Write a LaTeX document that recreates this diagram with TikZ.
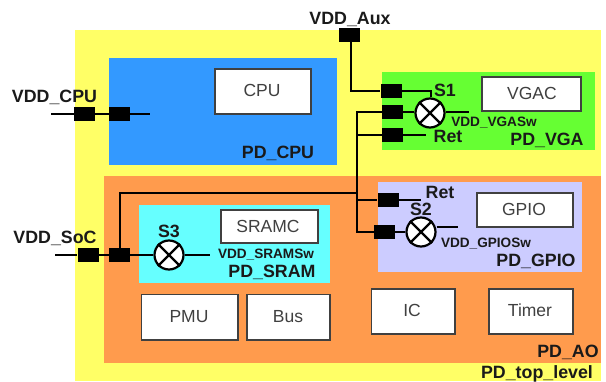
\documentclass[tikz,border=0pt]{standalone}
\usepackage{fontspec}
\setmainfont{Liberation Sans}
\newcommand{\fs}[1]{\fontsize{#1pt}{#1pt}\selectfont}
\definecolor{topY}{HTML}{FFFF66}
\definecolor{cpuB}{HTML}{3399FF}
\definecolor{aoO}{HTML}{FF9B4D}
\definecolor{vgaG}{HTML}{66FF33}
\definecolor{gpioP}{HTML}{CCCCFF}
\definecolor{sramC}{HTML}{66FFFF}
\definecolor{txt}{HTML}{1A1A1A}
\definecolor{boxtxt}{HTML}{404040}
\tikzset{
  ipbox/.style={draw=boxtxt,line width=1.5pt,fill=white,inner sep=0pt},
  pad/.style={fill=black,draw=none,minimum width=21pt,minimum height=14pt,inner sep=0pt},
  wire/.style={line width=2pt,black},
  sw/.style={circle,draw=black,line width=2.2pt,fill=white,minimum size=29pt,inner sep=0pt},
  swx/.style={line width=2.2pt,black},
  big/.style={inner sep=0pt,text=txt,anchor=base,yshift=-6.3pt,font=\fs{17.8}\bfseries},
  small/.style={inner sep=0pt,text=txt,anchor=base,yshift=-4.9pt,font=\fs{13.6}\bfseries},
  ipname/.style={inner sep=0pt,text=boxtxt,anchor=base,yshift=-6.2pt,font=\fs{17.5}}
}
\begin{document}
\begin{tikzpicture}[x=1pt,y=-1pt]
\useasboundingbox (0,0) rectangle (606,381);
% regions
\fill[topY] (75,30) rectangle (601,381);
\fill[cpuB] (109,57.5) rectangle (336.5,165);
\fill[aoO] (104,176) rectangle (601,363);
\fill[vgaG] (382,72) rectangle (595,150);
\fill[gpioP] (378,182) rectangle (582,272);
\fill[sramC] (139,205) rectangle (330,283);
% IP blocks
\node[ipbox,minimum width=96pt,minimum height=45pt] (cpu) at (263,91.5) {};
\node[ipbox,minimum width=99pt,minimum height=34pt] (vgac) at (531.5,94) {};
\node[ipbox,minimum width=96pt,minimum height=34pt] (gpio) at (525,210) {};
\node[ipbox,minimum width=97pt,minimum height=33pt] (sramc) at (269.5,226.5) {};
\node[ipbox,minimum width=96.5pt,minimum height=45.5pt] (pmu) at (189.75,317.25) {};
\node[ipbox,minimum width=83pt,minimum height=45.5pt] (bus) at (288.5,317.25) {};
\node[ipbox,minimum width=83.5pt,minimum height=45pt] (ic) at (413.25,311.5) {};
\node[ipbox,minimum width=84pt,minimum height=45pt] (timer) at (531,311.5) {};
% free ends and junctions
\coordinate (cpuL) at (51,114);
\coordinate (cpuR) at (150,114);
\coordinate (socL) at (55,255);
\coordinate (auxC) at (351,90.5);
\coordinate (j1) at (357,111.5);
\coordinate (j2) at (357,134.5);
\coordinate (j4) at (357,199.5);
\coordinate (j5) at (357,231.5);
\coordinate (j3) at (357,193);
\coordinate (j6) at (119.5,193);
\coordinate (retVga) at (426,134.5);
\coordinate (retGpio) at (421,199.5);
\coordinate (s1out) at (469,112);
\coordinate (s2out) at (458,226.5);
\coordinate (s3out) at (210,255);
\coordinate (s1top) at (431,90.5);
% pads
\node[pad] (pCpu1) at (84.5,114) {};
\node[pad] (pCpu2) at (119.5,114) {};
\node[pad] (pAux) at (349.5,35) {};
\node[pad] (pS1) at (391,90.5) {};
\node[pad] (pV1) at (392.5,111.5) {};
\node[pad] (pV2) at (392.5,134.5) {};
\node[pad] (pG1) at (388,199.5) {};
\node[pad] (pG2) at (384,231.5) {};
\node[pad] (pSoc1) at (88,255) {};
\node[pad] (pSoc2) at (119.5,255) {};
% switches
\node[sw] (s1) at (430,113) {};
\node[sw] (s2) at (421,232) {};
\node[sw] (s3) at (169,255) {};
% wires
\draw[wire] (cpuL) -- (pCpu1.west);
\draw[wire] (pCpu1.east) -- (pCpu2.west);
\draw[wire] (pCpu2.east) -- (cpuR);
\draw[wire] (auxC |- pAux.south) -- (auxC) -- (pS1.west);
\draw[wire] (pS1.east) -- (s1top) -- (s1top |- s1.north);
\draw[wire,line cap=rect] (j1) -- (pV1.west);
\draw[wire] (pV1.east) -- (pV1.east -| s1.west);
\draw[wire] (j2) -- (pV2.west);
\draw[wire] (pV2.east) -- (retVga);
\draw[wire] (j1) -- (j5);
\draw[wire,line cap=rect] (j5) -- (pG2.west);
\draw[wire] (pG2.east) -- (pG2.east -| s2.west);
\draw[wire] (j4) -- (pG1.west);
\draw[wire] (pG1.east) -- (retGpio);
\draw[wire,line cap=rect] (j3) -- (j6) -- (pSoc2.north);
\draw[wire] (socL) -- (pSoc1.west);
\draw[wire] (pSoc1.east) -- (pSoc2.west);
\draw[wire] (pSoc2.east) -- (s3.west);
\draw[wire] (s3.east) -- (s3out);
\draw[wire] (s1.east |- s1out) -- (s1out);
\draw[wire] (s2.east |- s2out) -- (s2out);
% switch crosses
\foreach \s in {s1,s2,s3}{
  \draw[swx] (\s.45) -- (\s.225);
  \draw[swx] (\s.135) -- (\s.315);
}
% labels
\node[big] (lCpuV) at (54.5,96) {VDD\_CPU};
\node[big] (lAuxV) at (350,18) {VDD\_Aux};
\node[big] (lSocV) at (55,237) {VDD\_SoC};
\node[big] (lPdCpu) at (278,152) {PD\_CPU};
\node[big] (lS1) at (445,90) {S1};
\node[big] (lS2) at (421,209) {S2};
\node[big] (lS3) at (169,231) {S3};
\node[big] (lRet1) at (448,136) {Ret};
\node[big] (lRet2) at (440,192) {Ret};
\node[big] (lPdVga) at (547,139) {PD\_VGA};
\node[big] (lPdGpio) at (536,260) {PD\_GPIO};
\node[big] (lPdSram) at (272,271) {PD\_SRAM};
\node[big] (lPdAo) at (568,351) {PD\_AO};
\node[big] (lPdTop) at (537,372) {PD\_top\_level};
\node[small] (lSwV) at (494,122) {VDD\_VGASw};
\node[small] (lSwG) at (486,243) {VDD\_GPIOSw};
\node[small] (lSwS) at (266,254) {VDD\_SRAMSw};
\node[ipname] at (262,90) {CPU};
\node[ipname] at (532,93) {VGAC};
\node[ipname] at (524,209) {GPIO};
\node[ipname] at (268,226) {SRAMC};
\node[ipname] at (189,316) {PMU};
\node[ipname] at (288,316) {Bus};
\node[ipname] at (412,310) {IC};
\node[ipname] at (530,310) {Timer};
\end{tikzpicture}
\end{document}
